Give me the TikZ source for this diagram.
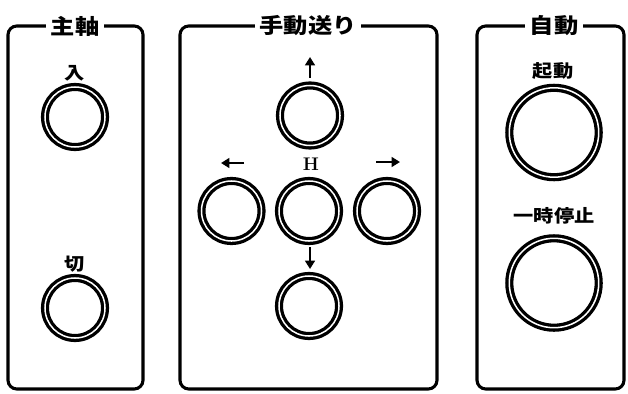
\documentclass[tikz,border=0pt]{standalone}
\usepackage{fontspec}
\usetikzlibrary{arrows.meta}
\newfontfamily\jpfont{Noto Sans CJK JP}[FakeStretch=1.15]

\begin{document}
\begin{tikzpicture}[
  x=0.025cm, y=-0.025cm,
  panel/.style={draw, rounded corners=0.22cm, line width=2.2pt},
  title/.style={fill=white, inner xsep=3.5pt, inner ysep=1pt, font=\jpfont\bfseries\fontsize{15}{15}\selectfont},
  lbl/.style={inner sep=0pt, font=\jpfont\bfseries\fontsize{12.5}{12.5}\selectfont},
  btn/.style={circle, draw, double=white, double distance=1.07pt, line width=2.35pt, minimum size=1.5cm, inner sep=0pt},
  bigbtn/.style={btn, minimum size=2.235cm},
  dir/.style={-{Triangle[length=6pt, width=7pt]}, line width=1.6pt}
]
  \useasboundingbox (0,0) rectangle (628,393);

  % spindle
  \draw[panel] (8,26) rectangle (143,389);
  \node[title] (spindle) at (75,26) {主軸};
  \node[lbl] (onlbl) at (75,73) {入};
  \node[btn] (onbtn) at (75,117) {};
  \node[lbl] (offlbl) at (75,264) {切};
  \node[btn] (offbtn) at (75,308) {};

  % manual feed
  \draw[panel] (180,26) rectangle (437,389);
  \node[title] (feed) at (308,26) {手動送り};
  \coordinate (upA) at (310,78);
  \coordinate (upB) at (310,57);
  \node[btn] (upbtn) at (310,115.5) {};
  \coordinate (leftA) at (244,163);
  \coordinate (leftB) at (221,163);
  \node[inner sep=0pt, font=\bfseries\fontsize{13}{13}\selectfont] (hlbl) at (311,164) {H};
  \coordinate (rightA) at (376,162);
  \coordinate (rightB) at (400,162);
  \node[btn] (leftbtn) at (231.5,211) {};
  \node[btn] (homebtn) at (309,211) {};
  \node[btn] (rightbtn) at (387,211) {};
  \coordinate (downA) at (310,247);
  \coordinate (downB) at (310,269);
  \node[btn] (downbtn) at (309,306) {};
  \draw[dir] (upA) -- (upB);
  \draw[dir] (leftA) -- (leftB);
  \draw[dir] (rightA) -- (rightB);
  \draw[dir] (downA) -- (downB);

  % automatic
  \draw[panel] (477,26) rectangle (624,389);
  \node[title] (auto) at (554,26) {自動};
  \node[lbl] (startlbl) at (553,70.5) {起動};
  \node[bigbtn] (startbtn) at (554,132.5) {};
  \node[lbl] (holdlbl) at (554,216) {一時停止};
  \node[bigbtn] (holdbtn) at (554,283) {};
\end{tikzpicture}
\end{document}
